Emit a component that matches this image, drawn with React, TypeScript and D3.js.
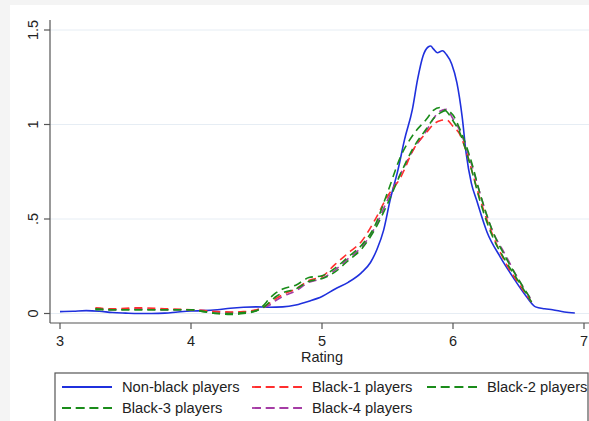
import React from "react";
import * as d3 from "d3";

const W = 589;
const H = 421;

// Non-black players (solid blue)
const nonBlackX = [3.0, 3.1, 3.2, 3.3, 3.4, 3.5, 3.6, 3.7, 3.8, 3.9, 4.0, 4.1, 4.2, 4.3, 4.4, 4.5, 4.6, 4.7, 4.8, 4.9, 5.0, 5.1, 5.2, 5.3, 5.37, 5.42, 5.47, 5.52, 5.58, 5.63, 5.69, 5.73, 5.77, 5.81, 5.83, 5.85, 5.88, 5.92, 5.95, 5.99, 6.03, 6.07, 6.1, 6.14, 6.18, 6.26, 6.36, 6.46, 6.56, 6.63, 6.7, 6.76, 6.85, 6.93];
const nonBlackY = [0.01, 0.012, 0.015, 0.012, 0.005, 0.002, 0.0, 0.0, 0.002, 0.008, 0.013, 0.015, 0.02, 0.028, 0.033, 0.035, 0.033, 0.035, 0.045, 0.065, 0.09, 0.13, 0.165, 0.215, 0.27, 0.34, 0.44, 0.6, 0.76, 0.92, 1.08, 1.24, 1.36, 1.41, 1.415, 1.4, 1.38, 1.39, 1.37, 1.32, 1.22, 1.04, 0.85, 0.69, 0.6, 0.43, 0.3, 0.19, 0.09, 0.035, 0.025, 0.02, 0.008, 0.003];

// Black players grid
const blackX = [3.27, 3.4, 3.6, 3.8, 4.0, 4.1, 4.2, 4.3, 4.4, 4.5, 4.55, 4.6, 4.65, 4.7, 4.8, 4.9, 5.0, 5.1, 5.2, 5.3, 5.4, 5.5, 5.6, 5.7, 5.8, 5.85, 5.9, 5.95, 6.0, 6.05, 6.1, 6.15, 6.2, 6.3, 6.4, 6.5, 6.6];
const black1Y = [0.03, 0.025, 0.03, 0.025, 0.02, 0.015, 0.01, 0.008, 0.01, 0.02, 0.035, 0.055, 0.08, 0.1, 0.13, 0.175, 0.195, 0.26, 0.32, 0.38, 0.49, 0.62, 0.72, 0.87, 0.96, 1.0, 1.02, 1.025, 0.99, 0.95, 0.86, 0.74, 0.62, 0.42, 0.27, 0.16, 0.06];
const black2Y = [0.02, 0.02, 0.02, 0.02, 0.02, 0.01, 0.0, 0.0, 0.005, 0.015, 0.03, 0.06, 0.09, 0.11, 0.13, 0.17, 0.185, 0.22, 0.28, 0.34, 0.44, 0.58, 0.74, 0.88, 0.98, 1.03, 1.06, 1.075, 1.05, 0.98, 0.89, 0.78, 0.65, 0.44, 0.3, 0.18, 0.07];
const black3Y = [0.025, 0.02, 0.02, 0.02, 0.02, 0.01, 0.0, -0.005, 0.0, 0.015, 0.04, 0.08, 0.11, 0.13, 0.15, 0.19, 0.2, 0.24, 0.3, 0.36, 0.46, 0.64, 0.83, 0.95, 1.03, 1.075, 1.09, 1.07, 1.02, 0.96, 0.86, 0.74, 0.61, 0.41, 0.28, 0.17, 0.06];
const black4Y = [0.025, 0.02, 0.025, 0.02, 0.02, 0.015, 0.008, 0.005, 0.008, 0.018, 0.03, 0.045, 0.07, 0.09, 0.12, 0.165, 0.185, 0.23, 0.29, 0.35, 0.45, 0.6, 0.74, 0.87, 0.97, 1.03, 1.07, 1.08, 1.03, 0.97, 0.88, 0.77, 0.65, 0.44, 0.31, 0.18, 0.07];

const xTicks = [3, 4, 5, 6, 7];
const yTicks = [0, 0.5, 1, 1.5];
const yTickLabels = ["0", ".5", "1", "1.5"];

const seriesNames = ["Non-black players", "Black-1 players", "Black-2 players", "Black-3 players", "Black-4 players"];
const seriesColors = ["#1f30dd", "#ff2e2e", "#1a8c1a", "#1a8c1a", "#a53ca5"];

const FONT = "'Liberation Sans', Arial, sans-serif";

export default function App() {
  const x = d3.scaleLinear().domain([3, 7]).range([60, 584]);
  const y = d3.scaleLinear().domain([0, 1.5]).range([313.5, 30]);

  const line = d3
    .line<[number, number]>()
    .x((d) => x(d[0]))
    .y((d) => y(d[1]))
    .curve(d3.curveMonotoneX);

  const series: { xs: number[]; ys: number[]; dashed: boolean }[] = [
    { xs: nonBlackX, ys: nonBlackY, dashed: false },
    { xs: blackX, ys: black1Y, dashed: true },
    { xs: blackX, ys: black2Y, dashed: true },
    { xs: blackX, ys: black3Y, dashed: true },
    { xs: blackX, ys: black4Y, dashed: true },
  ];
  const drawOrder = [0, 4, 1, 2, 3];

  const axisX0 = 50;
  const axisY = 323;

  const legendCols = [
    { lx: 62, tx: 122 },
    { lx: 252, tx: 312 },
    { lx: 427, tx: 487 },
  ];
  const legendRows = [387, 408];

  return (
    <svg
      width={W}
      height={H}
      style={{ position: "absolute", left: 0, top: 0, display: "block" }}
      fontFamily={FONT}
    >
      <rect x={0} y={0} width={W} height={H} fill="#f4f4f4" />
      <rect x={10} y={5} width={W - 10} height={H - 5} fill="#ffffff" />

      {/* grid lines */}
      {yTicks.map((t) => (
        <line key={"g" + t} x1={axisX0} x2={W} y1={y(t)} y2={y(t)} stroke="#e6edf4" strokeWidth={1} />
      ))}

      {/* series */}
      {drawOrder.map((i) => {
        const s = series[i];
        const pts: [number, number][] = s.xs.map((v, k) => [v, s.ys[k]]);
        return (
          <path
            key={"s" + i}
            d={line(pts) || ""}
            fill="none"
            stroke={seriesColors[i]}
            strokeWidth={1.6}
            strokeDasharray={s.dashed ? "8,5" : undefined}
          />
        );
      })}

      {/* y axis */}
      <line x1={axisX0} x2={axisX0} y1={20} y2={axisY} stroke="#555" strokeWidth={1.2} />
      {yTicks.map((t, i) => (
        <g key={"yt" + t}>
          <line x1={axisX0 - 6} x2={axisX0} y1={y(t)} y2={y(t)} stroke="#555" strokeWidth={1.2} />
          <text
            x={38}
            y={y(t)}
            transform={`rotate(-90, 38, ${y(t)})`}
            textAnchor="middle"
            fontSize={14.5}
            fill="#222"
          >
            {yTickLabels[i]}
          </text>
        </g>
      ))}

      {/* x axis */}
      <line x1={axisX0} x2={W} y1={axisY} y2={axisY} stroke="#555" strokeWidth={1.2} />
      {xTicks.map((t) => (
        <g key={"xt" + t}>
          <line x1={x(t)} x2={x(t)} y1={axisY} y2={axisY + 6} stroke="#555" strokeWidth={1.2} />
          <text x={x(t)} y={346} textAnchor="middle" fontSize={14.5} fill="#222">
            {String(t)}
          </text>
        </g>
      ))}
      <text x={322} y={362} textAnchor="middle" fontSize={14.5} fill="#222">
        Rating
      </text>

      {/* legend */}
      <rect x={55} y={373} width={533} height={60} fill="#fff" stroke="#555" strokeWidth={1.2} />
      {seriesNames.map((name, i) => {
        const col = legendCols[i % 3];
        const row = legendRows[Math.floor(i / 3)];
        return (
          <g key={"lg" + i}>
            <line
              x1={col.lx}
              x2={col.lx + 50}
              y1={row}
              y2={row}
              stroke={seriesColors[i]}
              strokeWidth={1.8}
              strokeDasharray={series[i].dashed ? "9,4.7" : undefined}
            />
            <text x={col.tx} y={row + 5} fontSize={14.7} fill="#222">
              {name}
            </text>
          </g>
        );
      })}
    </svg>
  );
}
